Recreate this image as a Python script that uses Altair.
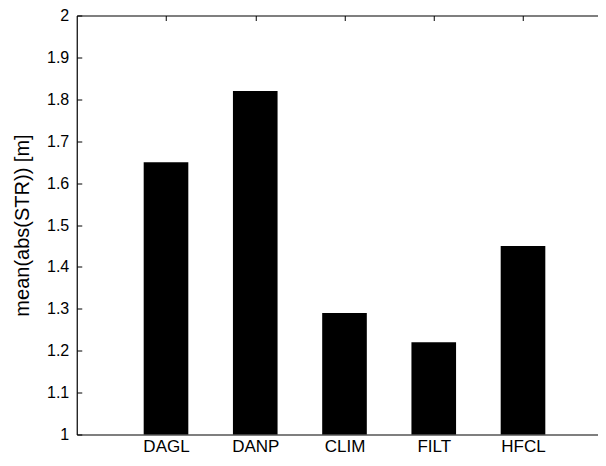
import json
import altair as alt
import pandas as pd

# ---- data ----
categories = ["DAGL", "DANP", "CLIM", "FILT", "HFCL"]
values = [1.65, 1.82, 1.29, 1.22, 1.45]
y_ticks = [1, 1.1, 1.2, 1.3, 1.4, 1.5, 1.6, 1.7, 1.8, 1.9, 2]
y_title = "mean(abs(STR)) [m]"

positions = list(range(1, len(categories) + 1))
df = pd.DataFrame({"cat": categories, "val": values, "pos": positions})

W = 521.25
H = 419
STEP = 89.25          # pixel spacing between categories
FONT = "Liberation Sans"

label_expr = json.dumps(categories) + "[datum.value - 1]"

x_scale = alt.Scale(domain=[0, W / STEP], nice=False, zero=False)
y_scale = alt.Scale(domain=[1, 2], nice=False, zero=False)

bars = alt.Chart(df).mark_bar(color="black").transform_calculate(
    lo="datum.pos - 0.25", hi="datum.pos + 0.25"
).encode(
    x=alt.X("lo:Q", scale=x_scale,
            axis=alt.Axis(orient="bottom", values=positions, labelExpr=label_expr,
                          ticks=False, domain=True, domainColor="black",
                          domainWidth=1.2, grid=False, title=None,
                          labelFontSize=17, labelPadding=4, labelColor="black",
                          labelFont=FONT)),
    x2="hi:Q",
    y=alt.Y("val:Q", scale=y_scale,
            axis=alt.Axis(orient="left", values=y_ticks, format=".1~f",
                          ticks=False, domain=True, domainColor="black",
                          domainWidth=1.2, grid=False,
                          labelFontSize=16, labelPadding=8, labelColor="black",
                          labelFont=FONT,
                          title=y_title, titleFont=FONT, titleFontSize=20,
                          titleFontWeight="normal", titleColor="black",
                          titleX=-54.5, titleY=H / 2, titleBaseline="middle",
                          titleAngle=270)),
    y2=alt.datum(1),
)

# inward-pointing tick marks (MATLAB style) + top border line
ticks_layer = alt.Chart(df).mark_point(opacity=0).encode(
    x=alt.X("pos:Q", scale=x_scale,
            axis=alt.Axis(orient="bottom", offset=-H, values=positions,
                          labels=False, domain=True, domainColor="black",
                          domainWidth=1.2, grid=False, title=None,
                          ticks=True, tickSize=5, tickColor="black", tickWidth=1)),
    y=alt.Y("val:Q", scale=y_scale,
            axis=alt.Axis(orient="right", offset=-W, values=y_ticks,
                          labels=False, domain=False, grid=False, title=None,
                          ticks=True, tickSize=5, tickColor="black", tickWidth=1)),
)

chart = alt.layer(bars, ticks_layer).resolve_axis(
    x="independent", y="independent"
).properties(
    width=W, height=H,
    autosize=alt.AutoSizeParams(type="none"),
    padding={"left": 68.75, "top": 7.5, "right": 0, "bottom": 23.5},
    background="white",
).configure_view(
    stroke=None
)

chart.save("out.html", embed_options={"renderer": "svg", "actions": False})
